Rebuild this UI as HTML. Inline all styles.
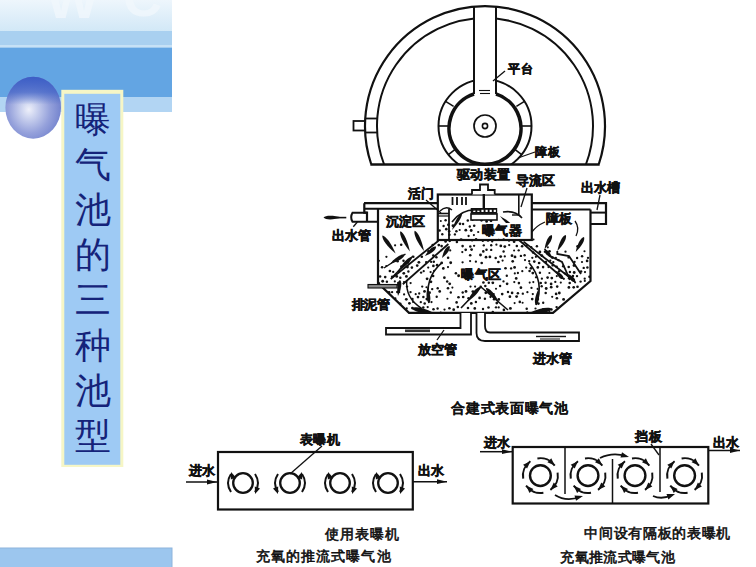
<!DOCTYPE html>
<html><head><meta charset="utf-8"><style>html,body{margin:0;padding:0;background:#fff;width:756px;height:567px;overflow:hidden}svg{display:block}</style></head>
<body><svg width="756" height="567" viewBox="0 0 756 567">

<defs>
<linearGradient id="topg" x1="0" y1="0" x2="0" y2="1">
<stop offset="0" stop-color="#eef6fc"/><stop offset="1" stop-color="#d2e8f7"/></linearGradient>
<radialGradient id="sph" cx="0.44" cy="0.54" r="0.62" fx="0.42" fy="0.53">
<stop offset="0" stop-color="#eef0fa"/><stop offset="0.22" stop-color="#ccd3ef"/><stop offset="0.6" stop-color="#95a1db"/><stop offset="1" stop-color="#6a7bca"/></radialGradient>
<linearGradient id="sphtop" x1="0" y1="0" x2="0" y2="1">
<stop offset="0" stop-color="#3c5ec6" stop-opacity="1"/><stop offset="0.25" stop-color="#4466c8" stop-opacity="0.75"/><stop offset="0.45" stop-color="#4a6cc8" stop-opacity="0"/></linearGradient>
</defs>
<rect x="0" y="0" width="172" height="31" fill="url(#topg)"/>
<rect x="0" y="31" width="172" height="15" fill="#a9d0f0"/>
<rect x="0" y="45" width="172" height="2.5" fill="#c6e1f6"/>
<rect x="0" y="47.5" width="172" height="49.5" fill="#63a5e3"/>
<rect x="0" y="97" width="172" height="15" fill="#b2d5f3"/>
<ellipse cx="33.2" cy="107.7" rx="27.8" ry="31" fill="url(#sph)"/>
<ellipse cx="33.2" cy="107.7" rx="27.8" ry="31" fill="url(#sphtop)"/>
<rect x="61.3" y="89.8" width="62" height="377.2" fill="#f6f6c6"/>
<rect x="64.3" y="93.8" width="56" height="371" fill="#9ecaf4"/>
<rect x="-1" y="548" width="173" height="20" fill="#9cc6ee" stroke="#8eb4dc" stroke-width="1"/>

<text transform="translate(46,18) scale(1.08,1)" x="0" y="0" font-family="Liberation Sans" font-weight="bold" font-size="52" fill="#f2f8fd" opacity="0.75">W</text>
<text x="123" y="16" font-family="Liberation Sans" font-weight="bold" font-size="54" fill="#f2f8fd" opacity="0.75">C</text>
<text x="74.5" y="131.5" font-family="Liberation Serif" font-size="36" font-weight="300" fill="#15237a">曝</text>
<text x="74.5" y="176.7" font-family="Liberation Serif" font-size="36" font-weight="300" fill="#15237a">气</text>
<text x="74.5" y="221.9" font-family="Liberation Serif" font-size="36" font-weight="300" fill="#15237a">池</text>
<text x="74.5" y="267.1" font-family="Liberation Serif" font-size="36" font-weight="300" fill="#15237a">的</text>
<text x="74.5" y="312.3" font-family="Liberation Serif" font-size="36" font-weight="300" fill="#15237a">三</text>
<text x="74.5" y="357.5" font-family="Liberation Serif" font-size="36" font-weight="300" fill="#15237a">种</text>
<text x="74.5" y="402.7" font-family="Liberation Serif" font-size="36" font-weight="300" fill="#15237a">池</text>
<text x="74.5" y="447.9" font-family="Liberation Serif" font-size="36" font-weight="300" fill="#15237a">型</text>
<clipPath id="topclip"><rect x="300" y="0" width="400" height="164.5"/></clipPath>
<g clip-path="url(#topclip)">
<path d="M371.3,164.5 A120,120 0 1 1 598.7,164.5" stroke="#111" fill="none" stroke-width="2.2"/>
<path d="M384.1,164.5 A108,108 0 1 1 585.9,164.5" stroke="#111" fill="none" stroke-width="2"/>
<circle cx="485" cy="126" r="46.5" stroke="#111" fill="none" stroke-width="2"/>
</g>
<rect x="475" y="9" width="20" height="84" fill="#fff"/>
<line x1="474" y1="6.5" x2="474" y2="94" stroke="#111" stroke-width="2"/>
<line x1="496" y1="6.5" x2="496" y2="94" stroke="#111" stroke-width="2"/>
<line x1="370.3437199271417" y1="164.5" x2="599.6562800728583" y2="164.5" stroke="#111" stroke-width="2.4"/>
<rect x="353.5" y="121" width="11.5" height="9.5" stroke="#111" fill="none" stroke-width="1.8"/>
<line x1="365" y1="118.5" x2="378" y2="118.5" stroke="#111" stroke-width="1.8"/>
<line x1="365" y1="132.5" x2="378" y2="132.5" stroke="#111" stroke-width="1.8"/>
<path d="M474,94 A36,36 0 1 0 496,94" stroke="#111" fill="none" stroke-width="3.6"/>
<circle cx="485" cy="126" r="11" stroke="#111" fill="none" stroke-width="1.7"/>
<circle cx="485" cy="126" r="2.6" stroke="#111" fill="none" stroke-width="1.6"/>
<line x1="479" y1="90.5" x2="490" y2="90.5" stroke="#111" stroke-width="1.1"/>
<line x1="480" y1="93.5" x2="490" y2="93.5" stroke="#111" stroke-width="1.1"/>
<line x1="453.6" y1="106.4" x2="445.6" y2="101.4" stroke="#111" stroke-width="1.6"/>
<line x1="448.0" y1="126.0" x2="438.5" y2="126.0" stroke="#111" stroke-width="1.6"/>
<line x1="455.8" y1="148.8" x2="448.4" y2="154.6" stroke="#111" stroke-width="1.6"/>
<line x1="516.4" y1="106.4" x2="524.4" y2="101.4" stroke="#111" stroke-width="1.6"/>
<line x1="522.0" y1="126.0" x2="531.5" y2="126.0" stroke="#111" stroke-width="1.6"/>
<line x1="514.2" y1="148.8" x2="521.6" y2="154.6" stroke="#111" stroke-width="1.6"/>
<line x1="493" y1="81" x2="505" y2="71" stroke="#111" stroke-width="1.3"/>
<text x="508.2" y="73.3" font-family="Liberation Sans" font-size="12" font-weight="bold" stroke="#111" stroke-width="0.5" fill="#111" textLength="24.3" lengthAdjust="spacing">平台</text>
<line x1="518" y1="158" x2="535" y2="152" stroke="#111" stroke-width="1.3"/>
<text x="534.5" y="155.6" font-family="Liberation Sans" font-size="12" font-weight="bold" stroke="#111" stroke-width="0.5" fill="#111" textLength="25.2" lengthAdjust="spacing">障板</text>
<text x="456.5" y="179.1" font-family="Liberation Sans" font-size="13" font-weight="bold" stroke="#111" stroke-width="0.5" fill="#111" textLength="53.5" lengthAdjust="spacing">驱动装置</text>
<g fill="#111"><circle cx="440.8" cy="221.0" r="1.05"/><circle cx="445.6" cy="220.3" r="1.21"/><circle cx="467.8" cy="220.6" r="1.26"/><circle cx="472.6" cy="219.6" r="1.32"/><circle cx="476.9" cy="219.3" r="1.08"/><circle cx="481.5" cy="220.3" r="1.34"/><circle cx="486.6" cy="221.4" r="1.34"/><circle cx="491.0" cy="220.8" r="1.43"/><circle cx="443.6" cy="226.0" r="1.21"/><circle cx="448.3" cy="224.8" r="1.29"/><circle cx="453.0" cy="225.8" r="1.44"/><circle cx="460.0" cy="223.8" r="1.34"/><circle cx="463.1" cy="224.0" r="1.19"/><circle cx="469.8" cy="226.5" r="1.17"/><circle cx="474.2" cy="225.8" r="1.28"/><circle cx="439.6" cy="230.6" r="1.27"/><circle cx="446.3" cy="229.2" r="1.33"/><circle cx="449.2" cy="231.3" r="1.25"/><circle cx="456.4" cy="231.3" r="1.25"/><circle cx="459.7" cy="230.0" r="1.06"/><circle cx="465.8" cy="230.2" r="1.42"/><circle cx="471.2" cy="230.5" r="1.42"/><circle cx="478.2" cy="232.0" r="1.12"/><circle cx="442.3" cy="234.3" r="1.19"/><circle cx="449.4" cy="234.8" r="1.31"/><circle cx="454.9" cy="234.4" r="1.18"/><circle cx="468.6" cy="236.0" r="1.15"/><circle cx="473.9" cy="235.1" r="1.08"/><circle cx="445.6" cy="241.5" r="1.37"/><circle cx="449.7" cy="240.8" r="1.37"/><circle cx="456.9" cy="241.9" r="1.26"/><circle cx="461.1" cy="239.6" r="1.44"/><circle cx="472.1" cy="240.4" r="1.14"/><circle cx="476.1" cy="239.2" r="1.28"/><circle cx="482.8" cy="240.8" r="1.17"/><circle cx="488.0" cy="240.4" r="1.35"/><circle cx="492.2" cy="241.4" r="1.15"/><circle cx="498.7" cy="239.7" r="1.06"/><circle cx="503.7" cy="239.5" r="1.23"/><circle cx="509.0" cy="240.7" r="1.06"/><circle cx="514.1" cy="241.7" r="1.38"/><circle cx="533.5" cy="239.5" r="1.09"/><circle cx="395.1" cy="245.3" r="1.11"/><circle cx="401.2" cy="244.7" r="1.27"/><circle cx="432.7" cy="244.9" r="1.23"/><circle cx="438.8" cy="245.1" r="1.38"/><circle cx="441.6" cy="246.1" r="1.32"/><circle cx="462.6" cy="246.1" r="1.31"/><circle cx="470.3" cy="246.4" r="1.26"/><circle cx="474.1" cy="245.8" r="1.16"/><circle cx="483.8" cy="245.3" r="1.17"/><circle cx="491.2" cy="245.3" r="1.19"/><circle cx="496.4" cy="244.7" r="1.13"/><circle cx="500.8" cy="245.9" r="1.39"/><circle cx="504.8" cy="246.6" r="1.40"/><circle cx="509.2" cy="245.1" r="1.16"/><circle cx="516.8" cy="246.0" r="1.25"/><circle cx="522.1" cy="246.2" r="1.31"/><circle cx="526.6" cy="245.7" r="1.10"/><circle cx="531.2" cy="247.2" r="1.20"/><circle cx="536.9" cy="246.3" r="1.23"/><circle cx="547.8" cy="247.3" r="1.08"/><circle cx="577.6" cy="246.4" r="1.40"/><circle cx="428.5" cy="251.2" r="1.26"/><circle cx="441.3" cy="250.3" r="1.06"/><circle cx="450.2" cy="250.4" r="1.09"/><circle cx="462.3" cy="252.1" r="1.12"/><circle cx="465.7" cy="249.8" r="1.34"/><circle cx="471.6" cy="249.6" r="1.39"/><circle cx="483.3" cy="251.4" r="1.28"/><circle cx="486.5" cy="249.7" r="1.23"/><circle cx="491.2" cy="249.9" r="1.20"/><circle cx="503.6" cy="251.5" r="1.21"/><circle cx="514.1" cy="250.5" r="1.05"/><circle cx="518.7" cy="250.3" r="1.17"/><circle cx="533.1" cy="252.5" r="1.29"/><circle cx="539.9" cy="251.9" r="1.40"/><circle cx="544.8" cy="251.8" r="1.12"/><circle cx="549.5" cy="251.3" r="1.35"/><circle cx="565.5" cy="251.7" r="1.16"/><circle cx="584.5" cy="251.2" r="1.06"/><circle cx="386.4" cy="256.8" r="1.14"/><circle cx="413.3" cy="256.8" r="1.25"/><circle cx="421.8" cy="256.8" r="1.32"/><circle cx="433.3" cy="255.5" r="1.30"/><circle cx="436.4" cy="257.2" r="1.25"/><circle cx="448.1" cy="257.8" r="1.28"/><circle cx="470.2" cy="255.3" r="1.30"/><circle cx="480.5" cy="255.0" r="1.42"/><circle cx="486.0" cy="257.2" r="1.36"/><circle cx="489.9" cy="256.9" r="1.40"/><circle cx="495.7" cy="257.9" r="1.25"/><circle cx="500.7" cy="256.6" r="1.43"/><circle cx="504.8" cy="256.4" r="1.13"/><circle cx="512.0" cy="255.7" r="1.37"/><circle cx="515.0" cy="256.9" r="1.41"/><circle cx="520.9" cy="255.9" r="1.20"/><circle cx="524.6" cy="255.2" r="1.18"/><circle cx="532.3" cy="257.8" r="1.15"/><circle cx="535.9" cy="256.8" r="1.10"/><circle cx="541.9" cy="255.7" r="1.36"/><circle cx="552.3" cy="257.6" r="1.43"/><circle cx="555.9" cy="257.7" r="1.05"/><circle cx="568.6" cy="257.4" r="1.17"/><circle cx="577.1" cy="258.0" r="1.17"/><circle cx="582.1" cy="256.2" r="1.23"/><circle cx="588.0" cy="257.8" r="1.17"/><circle cx="378.9" cy="260.8" r="1.09"/><circle cx="393.7" cy="261.2" r="1.06"/><circle cx="397.6" cy="261.3" r="1.32"/><circle cx="403.5" cy="260.7" r="1.25"/><circle cx="408.3" cy="262.7" r="1.08"/><circle cx="418.9" cy="262.3" r="1.41"/><circle cx="426.2" cy="262.1" r="1.22"/><circle cx="431.1" cy="261.9" r="1.14"/><circle cx="433.8" cy="261.7" r="1.23"/><circle cx="441.7" cy="262.9" r="1.36"/><circle cx="450.7" cy="262.8" r="1.44"/><circle cx="462.6" cy="262.3" r="1.16"/><circle cx="470.1" cy="261.1" r="1.12"/><circle cx="475.9" cy="261.7" r="1.16"/><circle cx="481.7" cy="263.0" r="1.35"/><circle cx="498.4" cy="262.0" r="1.34"/><circle cx="502.6" cy="260.6" r="1.10"/><circle cx="512.7" cy="261.3" r="1.36"/><circle cx="525.0" cy="260.1" r="1.14"/><circle cx="529.2" cy="261.1" r="1.17"/><circle cx="534.3" cy="261.6" r="1.32"/><circle cx="539.1" cy="263.0" r="1.37"/><circle cx="545.8" cy="262.0" r="1.37"/><circle cx="550.3" cy="260.6" r="1.11"/><circle cx="553.3" cy="262.2" r="1.15"/><circle cx="558.5" cy="260.1" r="1.19"/><circle cx="574.6" cy="261.9" r="1.16"/><circle cx="582.0" cy="262.0" r="1.11"/><circle cx="587.1" cy="260.9" r="1.34"/><circle cx="382.1" cy="267.3" r="1.27"/><circle cx="386.3" cy="266.0" r="1.09"/><circle cx="401.4" cy="266.5" r="1.20"/><circle cx="407.4" cy="267.0" r="1.43"/><circle cx="411.9" cy="267.6" r="1.29"/><circle cx="417.2" cy="265.6" r="1.34"/><circle cx="428.2" cy="267.6" r="1.10"/><circle cx="433.4" cy="265.9" r="1.33"/><circle cx="437.1" cy="265.2" r="1.37"/><circle cx="443.3" cy="268.4" r="1.34"/><circle cx="448.0" cy="267.1" r="1.14"/><circle cx="505.5" cy="268.2" r="1.32"/><circle cx="511.1" cy="268.4" r="1.21"/><circle cx="514.6" cy="267.4" r="1.39"/><circle cx="526.2" cy="267.6" r="1.15"/><circle cx="531.0" cy="268.3" r="1.41"/><circle cx="537.8" cy="267.4" r="1.34"/><circle cx="543.1" cy="267.1" r="1.29"/><circle cx="548.5" cy="267.1" r="1.13"/><circle cx="552.6" cy="265.4" r="1.20"/><circle cx="556.6" cy="266.8" r="1.27"/><circle cx="563.2" cy="266.2" r="1.26"/><circle cx="568.7" cy="267.0" r="1.28"/><circle cx="574.0" cy="265.5" r="1.40"/><circle cx="583.7" cy="267.9" r="1.20"/><circle cx="587.4" cy="267.6" r="1.24"/><circle cx="389.9" cy="271.0" r="1.34"/><circle cx="393.2" cy="271.9" r="1.16"/><circle cx="399.1" cy="271.1" r="1.27"/><circle cx="403.8" cy="273.3" r="1.42"/><circle cx="408.4" cy="271.5" r="1.18"/><circle cx="421.1" cy="272.6" r="1.22"/><circle cx="423.7" cy="271.2" r="1.12"/><circle cx="430.6" cy="272.1" r="1.15"/><circle cx="434.1" cy="270.8" r="1.08"/><circle cx="455.9" cy="273.2" r="1.27"/><circle cx="514.8" cy="273.4" r="1.08"/><circle cx="517.9" cy="273.0" r="1.15"/><circle cx="522.3" cy="271.2" r="1.11"/><circle cx="529.6" cy="271.0" r="1.30"/><circle cx="532.8" cy="273.1" r="1.40"/><circle cx="539.9" cy="272.7" r="1.22"/><circle cx="549.4" cy="273.0" r="1.08"/><circle cx="559.1" cy="271.2" r="1.23"/><circle cx="564.9" cy="273.4" r="1.16"/><circle cx="569.9" cy="272.0" r="1.21"/><circle cx="574.2" cy="272.5" r="1.41"/><circle cx="581.1" cy="271.6" r="1.27"/><circle cx="585.0" cy="272.1" r="1.13"/><circle cx="380.1" cy="276.4" r="1.27"/><circle cx="385.2" cy="277.1" r="1.30"/><circle cx="392.2" cy="276.8" r="1.27"/><circle cx="396.7" cy="276.4" r="1.42"/><circle cx="400.3" cy="277.8" r="1.25"/><circle cx="406.4" cy="276.4" r="1.43"/><circle cx="427.1" cy="278.8" r="1.41"/><circle cx="433.1" cy="276.0" r="1.33"/><circle cx="444.4" cy="277.7" r="1.33"/><circle cx="458.6" cy="275.8" r="1.43"/><circle cx="506.8" cy="275.8" r="1.20"/><circle cx="516.2" cy="278.4" r="1.37"/><circle cx="536.0" cy="277.3" r="1.16"/><circle cx="541.9" cy="278.7" r="1.16"/><circle cx="547.6" cy="277.6" r="1.32"/><circle cx="551.8" cy="278.1" r="1.38"/><circle cx="556.8" cy="276.1" r="1.10"/><circle cx="563.8" cy="278.8" r="1.15"/><circle cx="569.0" cy="278.3" r="1.17"/><circle cx="573.0" cy="276.0" r="1.21"/><circle cx="577.0" cy="276.1" r="1.17"/><circle cx="584.7" cy="278.7" r="1.16"/><circle cx="589.4" cy="276.7" r="1.22"/><circle cx="378.6" cy="283.2" r="1.35"/><circle cx="382.7" cy="281.3" r="1.43"/><circle cx="386.9" cy="281.7" r="1.23"/><circle cx="394.8" cy="281.4" r="1.06"/><circle cx="398.3" cy="283.1" r="1.31"/><circle cx="404.0" cy="282.0" r="1.07"/><circle cx="410.6" cy="283.1" r="1.13"/><circle cx="431.0" cy="281.8" r="1.34"/><circle cx="447.2" cy="281.6" r="1.23"/><circle cx="449.7" cy="283.8" r="1.39"/><circle cx="483.4" cy="282.5" r="1.31"/><circle cx="488.8" cy="282.8" r="1.23"/><circle cx="492.8" cy="282.8" r="1.41"/><circle cx="503.5" cy="281.4" r="1.16"/><circle cx="507.1" cy="283.8" r="1.38"/><circle cx="514.3" cy="282.1" r="1.12"/><circle cx="518.9" cy="283.1" r="1.29"/><circle cx="529.7" cy="282.6" r="1.05"/><circle cx="533.3" cy="282.1" r="1.08"/><circle cx="540.7" cy="283.0" r="1.33"/><circle cx="545.6" cy="282.8" r="1.21"/><circle cx="551.1" cy="283.9" r="1.38"/><circle cx="555.3" cy="281.9" r="1.16"/><circle cx="560.8" cy="282.6" r="1.07"/><circle cx="569.7" cy="283.1" r="1.27"/><circle cx="575.1" cy="282.3" r="1.08"/><circle cx="580.6" cy="281.6" r="1.18"/><circle cx="584.8" cy="280.9" r="1.07"/><circle cx="385.9" cy="286.0" r="1.33"/><circle cx="392.1" cy="286.6" r="1.43"/><circle cx="395.6" cy="286.4" r="1.40"/><circle cx="407.0" cy="286.6" r="1.18"/><circle cx="422.2" cy="286.6" r="1.16"/><circle cx="426.5" cy="287.2" r="1.06"/><circle cx="432.2" cy="289.1" r="1.20"/><circle cx="437.7" cy="288.2" r="1.21"/><circle cx="448.0" cy="288.3" r="1.31"/><circle cx="452.4" cy="287.6" r="1.06"/><circle cx="470.5" cy="286.6" r="1.11"/><circle cx="475.1" cy="286.6" r="1.11"/><circle cx="480.7" cy="286.7" r="1.29"/><circle cx="485.3" cy="286.1" r="1.26"/><circle cx="496.0" cy="288.8" r="1.07"/><circle cx="500.1" cy="286.1" r="1.24"/><circle cx="520.9" cy="287.7" r="1.38"/><circle cx="531.5" cy="287.9" r="1.15"/><circle cx="537.6" cy="288.9" r="1.06"/><circle cx="541.7" cy="286.3" r="1.19"/><circle cx="546.2" cy="288.5" r="1.42"/><circle cx="551.2" cy="287.2" r="1.36"/><circle cx="557.2" cy="286.6" r="1.28"/><circle cx="568.9" cy="287.4" r="1.38"/><circle cx="573.7" cy="287.3" r="1.34"/><circle cx="577.5" cy="286.8" r="1.32"/><circle cx="389.1" cy="292.5" r="1.38"/><circle cx="392.1" cy="292.2" r="1.16"/><circle cx="397.3" cy="292.0" r="1.23"/><circle cx="404.1" cy="294.4" r="1.10"/><circle cx="410.5" cy="292.1" r="1.17"/><circle cx="415.7" cy="294.2" r="1.09"/><circle cx="419.2" cy="293.5" r="1.16"/><circle cx="424.5" cy="291.4" r="1.38"/><circle cx="429.6" cy="292.7" r="1.34"/><circle cx="439.7" cy="291.4" r="1.35"/><circle cx="450.8" cy="292.5" r="1.17"/><circle cx="462.7" cy="292.5" r="1.19"/><circle cx="466.0" cy="291.4" r="1.41"/><circle cx="472.9" cy="291.6" r="1.44"/><circle cx="475.7" cy="292.2" r="1.13"/><circle cx="485.8" cy="292.8" r="1.37"/><circle cx="493.7" cy="294.0" r="1.11"/><circle cx="502.2" cy="294.1" r="1.35"/><circle cx="508.0" cy="292.0" r="1.22"/><circle cx="512.1" cy="292.9" r="1.33"/><circle cx="517.9" cy="293.2" r="1.26"/><circle cx="522.8" cy="293.7" r="1.17"/><circle cx="527.4" cy="292.2" r="1.14"/><circle cx="532.8" cy="294.1" r="1.14"/><circle cx="545.7" cy="292.9" r="1.25"/><circle cx="556.1" cy="293.9" r="1.37"/><circle cx="559.3" cy="293.0" r="1.42"/><circle cx="395.4" cy="298.4" r="1.07"/><circle cx="406.3" cy="299.3" r="1.41"/><circle cx="412.4" cy="299.0" r="1.28"/><circle cx="418.0" cy="297.1" r="1.35"/><circle cx="423.4" cy="297.1" r="1.25"/><circle cx="426.8" cy="299.1" r="1.36"/><circle cx="436.7" cy="296.7" r="1.19"/><circle cx="447.4" cy="298.7" r="1.06"/><circle cx="458.5" cy="297.2" r="1.31"/><circle cx="463.2" cy="297.0" r="1.33"/><circle cx="468.5" cy="298.2" r="1.27"/><circle cx="479.6" cy="297.9" r="1.35"/><circle cx="484.9" cy="298.7" r="1.21"/><circle cx="490.5" cy="297.0" r="1.15"/><circle cx="494.1" cy="299.2" r="1.34"/><circle cx="498.8" cy="299.4" r="1.35"/><circle cx="509.9" cy="296.7" r="1.36"/><circle cx="516.6" cy="296.6" r="1.42"/><circle cx="532.2" cy="299.1" r="1.34"/><circle cx="538.0" cy="298.9" r="1.21"/><circle cx="552.2" cy="296.8" r="1.10"/><circle cx="556.9" cy="298.2" r="1.31"/><circle cx="563.6" cy="299.4" r="1.43"/><circle cx="400.2" cy="303.8" r="1.35"/><circle cx="409.4" cy="303.3" r="1.36"/><circle cx="413.1" cy="301.9" r="1.07"/><circle cx="420.8" cy="302.2" r="1.15"/><circle cx="424.7" cy="303.6" r="1.27"/><circle cx="431.5" cy="302.1" r="1.13"/><circle cx="456.6" cy="302.4" r="1.30"/><circle cx="471.3" cy="303.4" r="1.40"/><circle cx="475.9" cy="301.9" r="1.23"/><circle cx="496.8" cy="303.1" r="1.37"/><circle cx="514.6" cy="303.1" r="1.06"/><circle cx="519.8" cy="301.9" r="1.29"/><circle cx="522.6" cy="302.7" r="1.05"/><circle cx="538.4" cy="303.6" r="1.37"/><circle cx="543.2" cy="302.7" r="1.18"/><circle cx="406.7" cy="308.5" r="1.13"/><circle cx="412.4" cy="308.1" r="1.39"/><circle cx="423.3" cy="307.6" r="1.24"/><circle cx="427.7" cy="307.1" r="1.15"/><circle cx="433.5" cy="309.3" r="1.29"/><circle cx="437.6" cy="308.5" r="1.19"/><circle cx="444.5" cy="309.6" r="1.10"/><circle cx="449.4" cy="308.2" r="1.29"/><circle cx="453.7" cy="309.7" r="1.39"/><circle cx="457.8" cy="307.0" r="1.26"/><circle cx="468.0" cy="308.0" r="1.29"/><circle cx="474.8" cy="308.4" r="1.36"/><circle cx="483.0" cy="309.0" r="1.17"/><circle cx="488.5" cy="307.6" r="1.26"/><circle cx="496.0" cy="307.3" r="1.17"/><circle cx="498.7" cy="307.4" r="1.11"/><circle cx="503.9" cy="309.9" r="1.35"/><circle cx="510.4" cy="308.4" r="1.43"/><circle cx="526.7" cy="308.7" r="1.23"/><circle cx="535.5" cy="308.5" r="1.12"/><circle cx="543.1" cy="309.2" r="1.17"/><circle cx="551.5" cy="309.5" r="1.19"/><circle cx="556.6" cy="307.1" r="1.22"/><circle cx="440.7" cy="312.5" r="1.06"/><circle cx="492.8" cy="312.1" r="1.26"/><circle cx="527.3" cy="312.4" r="1.12"/><circle cx="549.4" cy="312.1" r="1.06"/></g>
<polyline points="378,208.8 378,283 409,312.8 553,312.8 590.5,281 590.5,209.5" stroke="#111" fill="none" stroke-width="2.2"/>
<line x1="364" y1="203.2" x2="437.8" y2="203.2" stroke="#111" stroke-width="2.2"/>
<polyline points="531.8,203.2 606,203.2 606,224 590.5,224" stroke="#111" fill="none" stroke-width="2.2"/>
<polyline points="364.3,203.2 364.3,212.7 367,212.7 367,222" stroke="#111" fill="none" stroke-width="2.2"/>
<line x1="364.3" y1="208.8" x2="437.8" y2="208.8" stroke="#111" stroke-width="2"/>
<line x1="531.8" y1="209.5" x2="590.5" y2="209.5" stroke="#111" stroke-width="2"/>
<line x1="590.5" y1="212.6" x2="606" y2="212.6" stroke="#111" stroke-width="2"/>
<rect x="437.8" y="194.5" width="94" height="45.5" fill="none" stroke="#111" stroke-width="2.2"/>
<line x1="449" y1="209" x2="449" y2="240" stroke="#111" stroke-width="1.8"/>
<line x1="438" y1="213.5" x2="449" y2="213.5" stroke="#111" stroke-width="1.6"/>
<line x1="438" y1="216" x2="449" y2="216" stroke="#111" stroke-width="1.2"/>
<line x1="518.8" y1="195" x2="518.8" y2="215.5" stroke="#111" stroke-width="1.6"/>
<line x1="512" y1="215" x2="519" y2="215" stroke="#111" stroke-width="1.4"/>
<path d="M472,194.5 V190 H480 V184.5 H488 V190 H494.7 V194.5" fill="#fff" stroke="#111" stroke-width="1.8"/>
<line x1="483.8" y1="194" x2="483.8" y2="208" stroke="#111" stroke-width="2.4"/>
<rect x="470.7" y="208" width="26.5" height="5.8" fill="#111"/>
<rect x="473.2" y="209.8" width="2.2" height="2.2" fill="#fff"/>
<rect x="477.3" y="209.8" width="2.2" height="2.2" fill="#fff"/>
<rect x="481.4" y="209.8" width="2.2" height="2.2" fill="#fff"/>
<rect x="485.5" y="209.8" width="2.2" height="2.2" fill="#fff"/>
<rect x="489.6" y="209.8" width="2.2" height="2.2" fill="#fff"/>
<rect x="493.7" y="209.8" width="2.2" height="2.2" fill="#fff"/>
<rect x="471" y="214" width="26" height="6" fill="#fff" stroke="#111" stroke-width="1.6"/>
<line x1="452.5" y1="197" x2="452.5" y2="205" stroke="#111" stroke-width="1.8"/>
<line x1="457" y1="197" x2="457" y2="205" stroke="#111" stroke-width="1.8"/>
<line x1="462" y1="197" x2="462" y2="205" stroke="#111" stroke-width="1.8"/>
<line x1="466" y1="197" x2="466" y2="205" stroke="#111" stroke-width="1.8"/>
<path d="M452,222 Q462,208 480,210" stroke="#111" fill="none" stroke-width="1.6"/>
<path d="M462.0,213.0 C462.7,216.2 458.2,223.4 452.0,230.0 C454.8,221.3 458.9,213.9 462.0,213.0Z" fill="#111"/>
<path d="M503,212 Q515,210 522,218" stroke="#111" fill="none" stroke-width="1.6"/>
<path d="M516.0,230.0 C512.6,230.0 505.9,223.8 500.0,216.0 C508.5,220.8 515.5,226.6 516.0,230.0Z" fill="#111"/>
<path d="M440,211 Q446,205 452,210" stroke="#111" fill="none" stroke-width="1.4"/>
<path d="M367,212.7 H352.5 Q349.8,217.2 352.5,221.8 H378" fill="none" stroke="#111" stroke-width="2"/>
<line x1="331" y1="217.6" x2="346.3" y2="217.6" stroke="#111" stroke-width="1.6"/>
<path d="M323.5,217.6 C325.7,215.0 333.7,215.3 342.0,217.6 C333.7,219.9 325.7,220.2 323.5,217.6Z" fill="#111"/>
<rect x="368" y="284.5" width="29" height="3.5" fill="#8a8a8a" stroke="#111" stroke-width="1.1"/>
<path d="M397,284.5 Q399.5,285 399.5,289 V293" stroke="#111" fill="none" stroke-width="1.3"/>
<path d="M460.5,313 V328 H386 V334.5 H471 V313" fill="#fff" stroke="#111" stroke-width="1.8"/>
<rect x="405" y="329.5" width="25" height="2.6" fill="#333"/>
<path d="M476.5,313 V333 Q476.5,341 485,341 H579 V332.5 H490 Q485,332.5 485,326 V313" fill="#fff" stroke="#111" stroke-width="1.8"/>
<line x1="536" y1="336.5" x2="566" y2="336.5" stroke="#111" stroke-width="1.4"/>
<line x1="540" y1="339" x2="560" y2="339" stroke="#111" stroke-width="1"/>
<path d="M438.5,240.7 L390.7,279" stroke="#111" fill="none" stroke-width="1.8"/>
<path d="M448.4,244 L402.8,284.2" stroke="#111" fill="none" stroke-width="1.8"/>
<path d="M384,268 L405.5,254" stroke="#111" fill="none" stroke-width="1.4"/>
<path d="M392,277.5 L412.9,256" stroke="#111" fill="none" stroke-width="1.4"/>
<path d="M406.8,280 Q405,298 421.6,308.3" stroke="#111" fill="none" stroke-width="1.4"/>
<path d="M441.7,262.8 Q424,278 429,303" stroke="#111" fill="none" stroke-width="1.6"/>
<path d="M429.0,303.0 C426.2,301.3 425.8,294.4 427.5,287.0 C430.5,294.0 431.4,300.8 429.0,303.0Z" fill="#111"/>
<path d="M519.2,240.2 L563,278.3" stroke="#111" fill="none" stroke-width="1.8"/>
<path d="M523.5,241.6 L574.3,281" stroke="#111" fill="none" stroke-width="1.8"/>
<path d="M557.3,251 V254 L569,256 L581,274" stroke="#111" fill="none" stroke-width="1.8"/>
<path d="M544.6,249 L550,256 L562,262 L570,280" stroke="#111" fill="none" stroke-width="1.8"/>
<path d="M529,262.8 Q545,282 536,305" stroke="#111" fill="none" stroke-width="1.6"/>
<path d="M536.0,305.0 C533.7,302.7 535.1,295.8 538.5,289.0 C539.7,296.6 538.9,303.5 536.0,305.0Z" fill="#111"/>
<path d="M461,308 L481,287 L508,310" stroke="#111" fill="none" stroke-width="1.6"/>
<path d="M480.0,287.0 C480.5,290.6 474.7,296.9 467.0,302.0 C471.0,293.6 476.4,287.0 480.0,287.0Z" fill="#111"/>
<path d="M486.0,288.0 C489.6,287.8 494.9,294.0 499.0,302.0 C491.4,297.4 485.6,291.5 486.0,288.0Z" fill="#111"/>
<path d="M412.0,308.5 C415.1,305.9 424.1,308.0 433.0,312.5 C423.0,313.4 413.9,312.0 412.0,308.5Z" fill="#111"/>
<path d="M552.0,309.0 C549.8,312.5 540.3,313.7 530.0,312.5 C539.5,308.2 548.9,306.4 552.0,309.0Z" fill="#111"/>
<path d="M382.3,235.6 C386.1,236.1 391.6,244.0 395.6,253.6 C387.6,247.0 381.7,239.4 382.3,235.6Z" fill="#111"/>
<path d="M400.3,231.3 C403.9,232.6 407.8,241.4 409.9,251.5 C403.4,243.5 399.0,234.9 400.3,231.3Z" fill="#111"/>
<path d="M414.6,230.8 C418.2,232.1 422.0,240.9 424.0,251.0 C417.5,242.9 413.3,234.4 414.6,230.8Z" fill="#111"/>
<path d="M404.5,254.8 C404.2,258.2 397.8,261.9 390.0,264.0 C395.2,257.8 401.3,253.6 404.5,254.8Z" fill="#111"/>
<path d="M412.0,257.0 C412.2,260.6 406.0,266.4 398.0,271.0 C402.6,263.0 408.4,256.8 412.0,257.0Z" fill="#111"/>
<path d="M436.0,246.5 C436.5,249.7 431.6,253.6 425.0,256.0 C428.3,249.9 432.9,245.6 436.0,246.5Z" fill="#111"/>
<path d="M449.5,246.0 C450.9,248.9 447.5,253.9 442.0,258.0 C443.3,251.3 446.3,246.0 449.5,246.0Z" fill="#111"/>
<path d="M400.0,280.0 C402.5,282.3 401.3,289.1 398.0,296.0 C396.5,288.5 397.1,281.6 400.0,280.0Z" fill="#111"/>
<path d="M551.7,235.0 C553.3,237.9 550.0,243.8 544.6,249.0 C545.6,241.6 548.4,235.4 551.7,235.0Z" fill="#111"/>
<path d="M565.8,235.0 C567.2,238.2 563.3,245.0 557.3,251.0 C559.0,242.6 562.4,235.6 565.8,235.0Z" fill="#111"/>
<path d="M584.0,237.0 C585.4,240.1 581.6,246.4 575.7,252.0 C577.3,244.1 580.6,237.5 584.0,237.0Z" fill="#111"/>
<path d="M563.0,279.0 C560.1,279.8 557.3,276.2 556.0,271.0 C561.0,273.0 564.2,276.2 563.0,279.0Z" fill="#111"/>
<path d="M575.0,282.0 C572.1,282.8 569.3,279.2 568.0,274.0 C573.0,276.0 576.2,279.2 575.0,282.0Z" fill="#111"/>
<path d="M545.0,250.0 C547.9,249.2 550.7,252.8 552.0,258.0 C547.0,256.0 543.8,252.8 545.0,250.0Z" fill="#111"/>
<path d="M575,221 Q580,228 576,236" stroke="#111" fill="none" stroke-width="1.3"/>
<text x="385.5" y="225.5" font-family="Liberation Sans" font-size="12.5" font-weight="bold" stroke="#111" stroke-width="0.5" fill="#111" textLength="39.0" lengthAdjust="spacing">沉淀区</text>
<text x="407.5" y="198.0" font-family="Liberation Sans" font-size="12.5" font-weight="bold" stroke="#111" stroke-width="0.5" fill="#111" textLength="26.0" lengthAdjust="spacing">活门</text>
<line x1="426" y1="200" x2="441" y2="213" stroke="#111" stroke-width="1.3"/>
<text x="515.5" y="185.4" font-family="Liberation Sans" font-size="13" font-weight="bold" stroke="#111" stroke-width="0.5" fill="#111" textLength="39.0" lengthAdjust="spacing">导流区</text>
<line x1="527" y1="188" x2="521" y2="207" stroke="#111" stroke-width="1.3"/>
<text x="580.9" y="191.8" font-family="Liberation Sans" font-size="12.7" font-weight="bold" stroke="#111" stroke-width="0.5" fill="#111" textLength="39.0" lengthAdjust="spacing">出水槽</text>
<line x1="600" y1="195" x2="597" y2="210" stroke="#111" stroke-width="1.3"/>
<text x="546.0" y="223.4" font-family="Liberation Sans" font-size="12.5" font-weight="bold" stroke="#111" stroke-width="0.5" fill="#111">障板</text>
<path d="M545,222 Q536,226 532,232" stroke="#111" fill="none" stroke-width="1.3"/>
<rect x="481" y="223" width="42" height="14" fill="#fff"/>
<text x="481.5" y="234.8" font-family="Liberation Sans" font-size="13" font-weight="bold" stroke="#111" stroke-width="0.5" fill="#111" textLength="40.7" lengthAdjust="spacing">曝气器</text>
<rect x="460" y="267" width="42" height="14" fill="#fff"/>
<text x="461.1" y="279.4" font-family="Liberation Sans" font-size="13" font-weight="bold" stroke="#111" stroke-width="0.5" fill="#111" textLength="40.0" lengthAdjust="spacing">曝气区</text>
<text x="331.5" y="240.2" font-family="Liberation Sans" font-size="12.7" font-weight="bold" stroke="#111" stroke-width="0.5" fill="#111" textLength="39.0" lengthAdjust="spacing">出水管</text>
<line x1="353.3" y1="226.7" x2="357.4" y2="222" stroke="#111" stroke-width="1.3"/>
<text x="351.5" y="308.6" font-family="Liberation Sans" font-size="12.7" font-weight="bold" stroke="#111" stroke-width="0.5" fill="#111" textLength="38.8" lengthAdjust="spacing">排泥管</text>
<text x="417.5" y="354.2" font-family="Liberation Sans" font-size="12.7" font-weight="bold" stroke="#111" stroke-width="0.5" fill="#111" textLength="39.0" lengthAdjust="spacing">放空管</text>
<line x1="437" y1="340" x2="444" y2="330" stroke="#111" stroke-width="1.3"/>
<text x="533.1" y="362.8" font-family="Liberation Sans" font-size="12.7" font-weight="bold" stroke="#111" stroke-width="0.5" fill="#111" textLength="39.0" lengthAdjust="spacing">进水管</text>
<text x="451.4" y="413.3" font-family="Liberation Sans" font-size="14.4" font-weight="bold" stroke="#111" stroke-width="0.1" fill="#111" textLength="116.7" lengthAdjust="spacing">合建式表面曝气池</text>
<rect x="218" y="452" width="194.8" height="57.5" stroke="#111" fill="none" stroke-width="2.2"/>
<circle cx="243" cy="483" r="9.8" stroke="#111" fill="none" stroke-width="2.3"/>
<path d="M231,474 Q225,483 231,492" stroke="#111" fill="none" stroke-width="2"/>
<path d="M255,474 Q261,483 255,492" stroke="#111" fill="none" stroke-width="2"/>
<polygon points="231.0,472.0 230.8,479.5 236.0,477.6" fill="#111"/>
<polygon points="255.0,494.0 260.0,488.4 254.8,486.5" fill="#111"/>
<circle cx="290" cy="483" r="9.8" stroke="#111" fill="none" stroke-width="2.3"/>
<path d="M278,474 Q272,483 278,492" stroke="#111" fill="none" stroke-width="2"/>
<path d="M302,474 Q308,483 302,492" stroke="#111" fill="none" stroke-width="2"/>
<polygon points="278.0,494.0 278.2,486.5 273.0,488.4" fill="#111"/>
<polygon points="302.0,472.0 297.0,477.6 302.2,479.5" fill="#111"/>
<circle cx="340" cy="483" r="9.8" stroke="#111" fill="none" stroke-width="2.3"/>
<path d="M328,474 Q322,483 328,492" stroke="#111" fill="none" stroke-width="2"/>
<path d="M352,474 Q358,483 352,492" stroke="#111" fill="none" stroke-width="2"/>
<polygon points="328.0,472.0 327.8,479.5 333.0,477.6" fill="#111"/>
<polygon points="352.0,494.0 357.0,488.4 351.8,486.5" fill="#111"/>
<circle cx="388" cy="483" r="9.8" stroke="#111" fill="none" stroke-width="2.3"/>
<path d="M376,474 Q370,483 376,492" stroke="#111" fill="none" stroke-width="2"/>
<path d="M400,474 Q406,483 400,492" stroke="#111" fill="none" stroke-width="2"/>
<polygon points="376.0,472.0 375.8,479.5 381.0,477.6" fill="#111"/>
<polygon points="400.0,494.0 405.0,488.4 399.8,486.5" fill="#111"/>
<line x1="290" y1="474" x2="322" y2="446" stroke="#111" stroke-width="1.3"/>
<text x="299.5" y="444.0" font-family="Liberation Sans" font-size="12.5" font-weight="bold" stroke="#111" stroke-width="0.5" fill="#111" textLength="40.0" lengthAdjust="spacing">表曝机</text>
<text x="188.5" y="475.4" font-family="Liberation Sans" font-size="12.5" font-weight="bold" stroke="#111" stroke-width="0.5" fill="#111">进水</text>
<line x1="186" y1="482" x2="217" y2="482" stroke="#111" stroke-width="1.5"/>
<polygon points="217.0,482.0 207.0,479.6 207.0,484.4" fill="#111"/>
<text x="417.5" y="475.4" font-family="Liberation Sans" font-size="12.5" font-weight="bold" stroke="#111" stroke-width="0.5" fill="#111">出水</text>
<line x1="413" y1="481.7" x2="447" y2="481.7" stroke="#111" stroke-width="1.5"/>
<polygon points="447.0,481.7 437.0,479.3 437.0,484.1" fill="#111"/>
<text x="325.4" y="538.8" font-family="Liberation Sans" font-size="14" stroke="#111" stroke-width="0.6" fill="#111" textLength="73.6" lengthAdjust="spacing">使用表曝机</text>
<text x="255.9" y="561.2" font-family="Liberation Sans" font-size="14" stroke="#111" stroke-width="0.6" fill="#111" textLength="134.6" lengthAdjust="spacing">充氧的推流式曝气池</text>
<rect x="512.7" y="447" width="195.6" height="56.5" stroke="#111" fill="none" stroke-width="2.2"/>
<line x1="565" y1="447" x2="565" y2="494" stroke="#111" stroke-width="1.5"/>
<line x1="612.5" y1="459" x2="612.5" y2="503.5" stroke="#111" stroke-width="1.5"/>
<line x1="660" y1="447" x2="660" y2="492" stroke="#111" stroke-width="1.5"/>
<circle cx="540.4" cy="475.6" r="10.4" stroke="#111" fill="none" stroke-width="2.4"/>
<path d="M537.4,458.4 A17.5,17.5 0 0 1 554.7,465.6" stroke="#111" fill="none" stroke-width="2"/>
<polygon points="554.7,465.6 551.3,458.3 547.4,462.3" fill="#111"/>
<path d="M523.2,478.6 A17.5,17.5 0 0 1 530.4,461.3" stroke="#111" fill="none" stroke-width="2"/>
<polygon points="530.4,461.3 523.1,464.7 527.1,468.6" fill="#111"/>
<path d="M543.4,492.8 A17.5,17.5 0 0 1 526.1,485.6" stroke="#111" fill="none" stroke-width="2"/>
<polygon points="526.1,485.6 529.5,492.9 533.4,488.9" fill="#111"/>
<path d="M557.6,472.6 A17.5,17.5 0 0 1 550.4,489.9" stroke="#111" fill="none" stroke-width="2"/>
<polygon points="550.4,489.9 557.7,486.5 553.7,482.6" fill="#111"/>
<circle cx="588" cy="475.6" r="10.4" stroke="#111" fill="none" stroke-width="2.4"/>
<path d="M585.0,458.4 A17.5,17.5 0 0 1 602.3,465.6" stroke="#111" fill="none" stroke-width="2"/>
<polygon points="602.3,465.6 598.9,458.3 595.0,462.3" fill="#111"/>
<path d="M570.8,478.6 A17.5,17.5 0 0 1 578.0,461.3" stroke="#111" fill="none" stroke-width="2"/>
<polygon points="578.0,461.3 570.7,464.7 574.7,468.6" fill="#111"/>
<path d="M591.0,492.8 A17.5,17.5 0 0 1 573.7,485.6" stroke="#111" fill="none" stroke-width="2"/>
<polygon points="573.7,485.6 577.1,492.9 581.0,488.9" fill="#111"/>
<path d="M605.2,472.6 A17.5,17.5 0 0 1 598.0,489.9" stroke="#111" fill="none" stroke-width="2"/>
<polygon points="598.0,489.9 605.3,486.5 601.3,482.6" fill="#111"/>
<circle cx="635" cy="475.6" r="10.4" stroke="#111" fill="none" stroke-width="2.4"/>
<path d="M632.0,458.4 A17.5,17.5 0 0 1 649.3,465.6" stroke="#111" fill="none" stroke-width="2"/>
<polygon points="649.3,465.6 645.9,458.3 642.0,462.3" fill="#111"/>
<path d="M617.8,478.6 A17.5,17.5 0 0 1 625.0,461.3" stroke="#111" fill="none" stroke-width="2"/>
<polygon points="625.0,461.3 617.7,464.7 621.7,468.6" fill="#111"/>
<path d="M638.0,492.8 A17.5,17.5 0 0 1 620.7,485.6" stroke="#111" fill="none" stroke-width="2"/>
<polygon points="620.7,485.6 624.1,492.9 628.0,488.9" fill="#111"/>
<path d="M652.2,472.6 A17.5,17.5 0 0 1 645.0,489.9" stroke="#111" fill="none" stroke-width="2"/>
<polygon points="645.0,489.9 652.3,486.5 648.3,482.6" fill="#111"/>
<circle cx="684.6" cy="475.6" r="10.4" stroke="#111" fill="none" stroke-width="2.4"/>
<path d="M681.6,458.4 A17.5,17.5 0 0 1 698.9,465.6" stroke="#111" fill="none" stroke-width="2"/>
<polygon points="698.9,465.6 695.5,458.3 691.6,462.3" fill="#111"/>
<path d="M667.4,478.6 A17.5,17.5 0 0 1 674.6,461.3" stroke="#111" fill="none" stroke-width="2"/>
<polygon points="674.6,461.3 667.3,464.7 671.3,468.6" fill="#111"/>
<path d="M687.6,492.8 A17.5,17.5 0 0 1 670.3,485.6" stroke="#111" fill="none" stroke-width="2"/>
<polygon points="670.3,485.6 673.7,492.9 677.6,488.9" fill="#111"/>
<path d="M701.8,472.6 A17.5,17.5 0 0 1 694.6,489.9" stroke="#111" fill="none" stroke-width="2"/>
<polygon points="694.6,489.9 701.9,486.5 697.9,482.6" fill="#111"/>
<path d="M555,495 Q566,502 580,497" stroke="#111" fill="none" stroke-width="1.8"/>
<polygon points="583.0,496.0 574.5,495.4 576.0,500.8" fill="#111"/>
<path d="M600,458 Q612,452 626,456" stroke="#111" fill="none" stroke-width="1.8"/>
<polygon points="629.0,457.0 622.0,452.2 620.5,457.6" fill="#111"/>
<path d="M653,496 Q662,500 672,495" stroke="#111" fill="none" stroke-width="1.8"/>
<polygon points="675.0,494.0 666.5,494.1 668.4,499.4" fill="#111"/>
<text x="483.5" y="447.0" font-family="Liberation Sans" font-size="12.5" font-weight="bold" stroke="#111" stroke-width="0.5" fill="#111">进水</text>
<line x1="480" y1="451.7" x2="512" y2="451.7" stroke="#111" stroke-width="1.5"/>
<polygon points="512.0,451.7 502.0,449.3 502.0,454.1" fill="#111"/>
<text x="713.0" y="446.5" font-family="Liberation Sans" font-size="12.5" font-weight="bold" stroke="#111" stroke-width="0.5" fill="#111">出水</text>
<line x1="708" y1="450.5" x2="740" y2="450.5" stroke="#111" stroke-width="1.5"/>
<polygon points="740.0,450.5 730.0,448.1 730.0,452.9" fill="#111"/>
<text x="634.5" y="441.3" font-family="Liberation Sans" font-size="12.5" font-weight="bold" stroke="#111" stroke-width="0.5" fill="#111" textLength="27.0" lengthAdjust="spacing">挡板</text>
<line x1="651" y1="444" x2="659" y2="455" stroke="#111" stroke-width="1.3"/>
<text x="584.4" y="538.0" font-family="Liberation Sans" font-size="14" stroke="#111" stroke-width="0.6" fill="#111" textLength="145.9" lengthAdjust="spacing">中间设有隔板的表曝机</text>
<text x="560.4" y="561.8" font-family="Liberation Sans" font-size="14" stroke="#111" stroke-width="0.6" fill="#111" textLength="114.1" lengthAdjust="spacing">充氧推流式曝气池</text>
</svg></body></html>
